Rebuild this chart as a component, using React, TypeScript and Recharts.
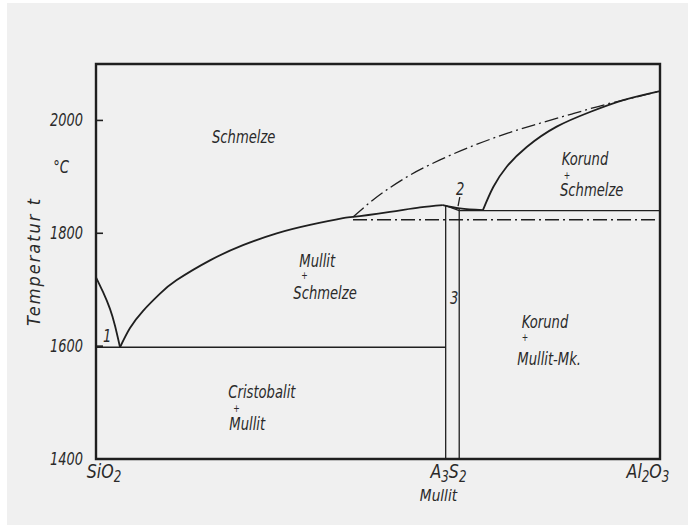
import React from 'react';
import { ComposedChart, Line, XAxis, YAxis, ReferenceArea, ReferenceDot } from 'recharts';

// composition axis: 0 = SiO2, 100 = Al2O3 ; temperature in °C
const X_TICKS = [0, 63.2, 100];
const X_TICK_LABELS = ['SiO_2', 'A_3S_2', 'Al_2O_3'];
const X_TICK_SUBLABELS = ['', 'Mullit', ''];
const Y_TICKS = [1400, 1600, 1800, 2000];

const SIO2_LIQUIDUS = [
  { x: 0, t: 1722 },
  { x: 1.24, t: 1696 },
  { x: 2.48, t: 1666 },
  { x: 3.37, t: 1636 },
  { x: 4.26, t: 1598 },
];

const MULLIT_LIQUIDUS = [
  { x: 4.26, t: 1598 },
  { x: 6.03, t: 1632 },
  { x: 8.39, t: 1663 },
  { x: 11.35, t: 1693 },
  { x: 14.31, t: 1717 },
  { x: 20.21, t: 1752 },
  { x: 26.06, t: 1779 },
  { x: 32.04, t: 1800 },
  { x: 37.94, t: 1815 },
  { x: 43.79, t: 1827 },
  { x: 45.57, t: 1829 },
  { x: 52.13, t: 1838 },
  { x: 57.45, t: 1846 },
  { x: 61.5, t: 1850 },
];
const MULLIT_TO_EUTECTIC = [
  { x: 61.5, t: 1850 },
  { x: 64.5, t: 1844 },
  { x: 68.6, t: 1841 },
];

const KORUND_LIQUIDUS = [
  { x: 68.6, t: 1841 },
  { x: 70.44, t: 1882 },
  { x: 72.82, t: 1918 },
  { x: 76.37, t: 1953 },
  { x: 81.68, t: 1989 },
  { x: 87.59, t: 2015 },
  { x: 93.49, t: 2036 },
  { x: 100, t: 2052 },
];

// metastable liquidus (dash-dot)
const META_LIQUIDUS = [
  { x: 45.57, t: 1829 },
  { x: 49.11, t: 1859 },
  { x: 55.14, t: 1900 },
  { x: 60.99, t: 1930 },
  { x: 66.84, t: 1955 },
  { x: 72.87, t: 1977 },
  { x: 78.72, t: 1995 },
  { x: 84.57, t: 2012 },
  { x: 90.6, t: 2029 },
  { x: 96.45, t: 2043 },
  { x: 100, t: 2052 },
];
const META_EUTECTIC = [{ x: 45.57, t: 1824 }, { x: 100, t: 1824 }];

const EUTECTIC_SIO2 = [{ x: 0, t: 1598 }, { x: 62, t: 1598 }];
const EUTECTIC_KORUND = [{ x: 64.4, t: 1840 }, { x: 100, t: 1840 }];
const MULLIT_LEFT = [{ x: 62, t: 1849 }, { x: 62, t: 1400 }];
const MULLIT_RIGHT = [{ x: 64.4, t: 1845 }, { x: 64.4, t: 1400 }];
const MULLIT_LENS = [{ x: 62, t: 1849 }, { x: 64.4, t: 1840 }];
const LEADER_2 = [{ x: 64.2, t: 1848 }, { x: 64.5, t: 1864 }];

const INK = '#1f1f1f';
const TEXT = '#2a2a2a';
const FONT = "'DejaVu Sans Condensed', 'DejaVu Sans', sans-serif";
const SX = 0.86;

// region labels: anchor in data coords, lines offset in px from the anchor
const NOTES = [
  { x: 20.57, t: 1960, lines: [{ s: 'Schmelze', dx: 0, dy: 0 }] },
  { x: 82.57, t: 1921, lines: [{ s: 'Korund', dx: 0, dy: 0 }, { s: '+', dx: 2, dy: 13.5, small: true }, { s: 'Schmelze', dx: -1.7, dy: 30.5 }] },
  { x: 36.05, t: 1741, lines: [{ s: 'Mullit', dx: 0, dy: 0 }, { s: '+', dx: 2, dy: 12.8, small: true }, { s: 'Schmelze', dx: -6, dy: 32.6 }] },
  { x: 23.46, t: 1507.6, lines: [{ s: 'Cristobalit', dx: 0, dy: 0 }, { s: '+', dx: 5, dy: 13.5, small: true }, { s: 'Mullit', dx: 1, dy: 31.7 }] },
  { x: 75.48, t: 1631.6, lines: [{ s: 'Korund', dx: 0, dy: 0 }, { s: '+', dx: 0, dy: 12.5, small: true }, { s: 'Mullit-Mk.', dx: -4.4, dy: 36.7 }] },
  { x: 1.24, t: 1608, lines: [{ s: '1', dx: 0, dy: 0 }] },
  { x: 63.83, t: 1868, lines: [{ s: '2', dx: 0, dy: 0 }] },
  { x: 62.77, t: 1675, lines: [{ s: '3', dx: 0, dy: 0 }] },
  { x: -7.6, t: 1907, lines: [{ s: '°C', dx: 0, dy: 0 }] },
];

function Txt({ x, y, size, anchor = 'start', sx = SX, children }: any) {
  return (
    <text
      transform={`translate(${x} ${y}) scale(${sx} 1)`}
      textAnchor={anchor}
      fontFamily={FONT}
      fontStyle="italic"
      fontSize={size}
      fill={TEXT}
    >
      {children}
    </text>
  );
}

function renderNote(lines: any[]) {
  return (props: any) => (
    <g>
      {lines.map((l, i) => (
        <Txt key={i} x={props.cx + l.dx} y={props.cy + l.dy} size={l.small ? 10 : 17}>
          {l.s}
        </Txt>
      ))}
    </g>
  );
}

function subParts(label: string) {
  const parts: { s: string; sub: boolean }[] = [];
  for (let i = 0; i < label.length; i++) {
    if (label[i] === '_') {
      parts.push({ s: label[i + 1], sub: true });
      i++;
    } else {
      const last = parts[parts.length - 1];
      if (last && !last.sub) last.s += label[i];
      else parts.push({ s: label[i], sub: false });
    }
  }
  return parts;
}

const X_LABEL_DX = [8, -4, -12];

function XTick(props: any) {
  const { x, y, index } = props;
  const parts = subParts(X_TICK_LABELS[index]);
  const sub = X_TICK_SUBLABELS[index];
  return (
    <g>
      <Txt x={x + X_LABEL_DX[index]} y={y + 19} size={20} anchor="middle" sx={0.88}>
        {parts.map((p, i) => (
          <tspan key={i} fontSize={p.sub ? 15 : 20} dy={p.sub ? 4 : i > 0 ? -4 : 0}>
            {p.s}
          </tspan>
        ))}
      </Txt>
      {sub && (
        <Txt x={x - 14} y={y + 42} size={16} anchor="middle" sx={0.95}>
          {sub}
        </Txt>
      )}
    </g>
  );
}

function YTick(props: any) {
  const { x, y, payload } = props;
  return (
    <g>
      <line x1={x} x2={x + 7} y1={y} y2={y} stroke={INK} strokeWidth={1.6} />
      <Txt x={x - 13} y={y + 6} size={18} anchor="end" sx={0.8}>
        {payload.value}
      </Txt>
    </g>
  );
}

function TempLabel(props: any) {
  const { viewBox } = props;
  const cx = viewBox.x - 3;
  const cy = viewBox.y + viewBox.height / 2;
  return (
    <text
      x={cx}
      y={cy}
      transform={`rotate(-90 ${cx} ${cy})`}
      textAnchor="middle"
      dominantBaseline="central"
      fontFamily={FONT}
      fontStyle="italic"
      fontSize={18}
      letterSpacing={2}
      fill={TEXT}
    >
      Temperatur t
    </text>
  );
}

const solid = { stroke: INK, strokeWidth: 1.8, dot: false, activeDot: false, isAnimationActive: false } as const;
const thin = { stroke: INK, strokeWidth: 1.3, dot: false, activeDot: false, isAnimationActive: false } as const;
const dashDot = { stroke: INK, strokeWidth: 1.3, strokeDasharray: '14 4 2 4', dot: false, activeDot: false, isAnimationActive: false } as const;

export default function App() {
  return (
    <div>
      <div style={{ position: 'absolute', left: 7, top: 3, width: 681, height: 522, background: '#f0f0f0' }} />
      <div style={{ position: 'relative' }}>
        <ComposedChart width={680} height={517} margin={{ top: 56, right: 28, bottom: 16, left: 28 }}>
          <XAxis
            type="number"
            dataKey="x"
            domain={[0, 100]}
            ticks={X_TICKS}
            tick={<XTick />}
            tickSize={0}
            tickMargin={0}
            axisLine={false}
            tickLine={false}
            height={50}
            interval={0}
          />
          <YAxis
            type="number"
            dataKey="t"
            domain={[1400, 2100]}
            ticks={Y_TICKS}
            tick={<YTick />}
            tickSize={0}
            tickMargin={0}
            axisLine={false}
            tickLine={false}
            width={60}
            interval={0}
            label={{ content: <TempLabel /> }}
          />
          <ReferenceArea x1={0} x2={100} y1={1400} y2={2100} fill="none" stroke={INK} strokeWidth={2.4} fillOpacity={0} />

          <Line data={SIO2_LIQUIDUS} dataKey="t" type="natural" {...solid} />
          <Line data={MULLIT_LIQUIDUS} dataKey="t" type="natural" {...solid} />
          <Line data={MULLIT_TO_EUTECTIC} dataKey="t" type="monotone" {...solid} />
          <Line data={KORUND_LIQUIDUS} dataKey="t" type="natural" {...solid} />
          <Line data={META_LIQUIDUS} dataKey="t" type="monotone" {...dashDot} />
          <Line data={META_EUTECTIC} dataKey="t" type="linear" {...dashDot} />
          <Line data={EUTECTIC_SIO2} dataKey="t" type="linear" {...thin} />
          <Line data={EUTECTIC_KORUND} dataKey="t" type="linear" {...thin} />
          <Line data={MULLIT_LEFT} dataKey="t" type="linear" {...thin} />
          <Line data={MULLIT_RIGHT} dataKey="t" type="linear" {...thin} />
          <Line data={MULLIT_LENS} dataKey="t" type="linear" {...thin} />
          <Line data={LEADER_2} dataKey="t" type="linear" {...thin} />

          {NOTES.map((n, i) => (
            <ReferenceDot key={i} x={n.x} y={n.t} r={0} ifOverflow="visible" shape={renderNote(n.lines)} />
          ))}
        </ComposedChart>
      </div>
    </div>
  );
}
